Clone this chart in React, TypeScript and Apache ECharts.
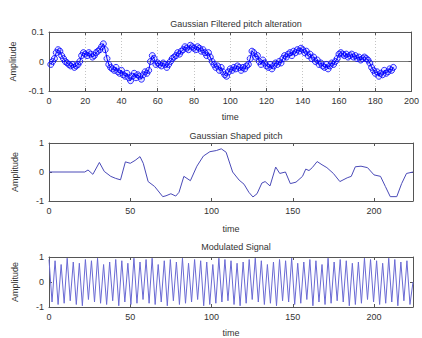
import React, { useEffect, useRef } from "react";
import * as echarts from "echarts";

// Panel 1: Gaussian filtered pitch alteration, samples at t = 1..190
const alterValues = [
  -0.01, 0.0, 0.01, 0.03, 0.04, 0.035, 0.02, 0.01, 0.0, -0.005,
  -0.01, -0.015, -0.01, -0.02, -0.015, -0.01, 0.0, 0.02, 0.03, 0.025,
  0.02, 0.03, 0.025, 0.015, 0.02, 0.03, 0.035, 0.04, 0.05, 0.06,
  0.04, 0.01, -0.01, -0.02, -0.025, -0.03, -0.02, -0.035, -0.04, -0.03,
  -0.045, -0.05, -0.04, -0.055, -0.065, -0.05, -0.04, -0.055, -0.045, -0.05,
  -0.06, -0.045, -0.035, -0.04, -0.03, 0.0, 0.02, 0.01, -0.01, -0.005,
  -0.01, -0.015, -0.005, -0.01, -0.02, -0.01, 0.0, 0.01, 0.015, 0.02,
  0.03, 0.025, 0.035, 0.04, 0.05, 0.045, 0.04, 0.055, 0.05, 0.045,
  0.04, 0.05, 0.045, 0.035, 0.04, 0.03, 0.02, 0.03, 0.015, 0.0,
  -0.01, -0.02, -0.015, -0.03, -0.02, -0.035, -0.045, -0.05, -0.035, -0.025,
  -0.03, -0.02, -0.025, -0.015, -0.02, -0.03, -0.02, -0.025, -0.015, -0.01,
  0.01, 0.035, 0.03, 0.015, 0.02, 0.0, -0.01, 0.005, -0.005, -0.015,
  -0.02, -0.01, -0.025, -0.015, -0.005, -0.01, 0.0, -0.005, 0.01, 0.02,
  0.015, 0.025, 0.03, 0.02, 0.035, 0.03, 0.04, 0.035, 0.045, 0.04,
  0.03, 0.035, 0.02, 0.025, 0.01, 0.015, 0.0, 0.005, -0.01, -0.005,
  -0.015, -0.02, -0.01, -0.025, -0.015, -0.005, -0.01, 0.0, 0.01, 0.025,
  0.03, 0.025, 0.02, 0.025, 0.015, 0.02, 0.025, 0.015, 0.02, 0.01,
  0.015, 0.005, 0.01, 0.015, 0.01, 0.005, -0.005, -0.02, -0.03, -0.04,
  -0.035, -0.05, -0.04, -0.045, -0.03, -0.04, -0.035, -0.025, -0.03, -0.02,
];

// Panel 2: Gaussian shaped pitch
const pitchTime = [
  0, 22, 24, 27, 31, 34, 38, 41, 44, 47, 50, 53, 56, 58, 61, 65, 70, 72, 75, 78, 80,
  83, 87, 91, 95, 99, 103, 106, 109, 113, 117, 120, 123, 125.5, 128, 131, 133, 136,
  139.5, 142, 145.5, 148.5, 152, 156, 158, 160, 162, 165, 168, 171, 175, 179, 183.5,
  186, 188.5, 192, 196, 200, 204, 207, 210, 214, 217, 220, 224,
];
const pitchValue = [
  0, 0, 0.07, -0.08, 0.33, 0.02, -0.15, -0.22, -0.27, 0.35, 0.3, 0.4, 0.53, 0.3, -0.33,
  -0.5, -0.85, -0.82, -0.75, -0.83, -0.7, -0.15, -0.3, 0.2, 0.55, 0.7, 0.74, 0.8, 0.68,
  0.0, -0.28, -0.42, -0.7, -0.86, -0.75, -0.38, -0.33, -0.48, 0.17, -0.05, 0.0, -0.4,
  -0.35, -0.15, 0.1, 0.05, 0.15, 0.36, 0.25, 0.15, -0.05, -0.33, -0.2, -0.15, 0.18,
  0.2, 0.15, -0.1, -0.15, -0.5, -0.85, -0.85, -0.4, -0.05, 0.0,
];

// Panel 3: modulated signal, successive extrema
const modValues = [
  0.9, -0.8, 0.85, -0.9, 0.7, -0.85, 0.95, -0.75, 0.8, -0.9,
  0.75, -0.95, 0.9, -0.7, 0.85, -0.8, 0.95, -0.85, 0.7, -0.9,
  0.8, -0.75, 0.9, -0.95, 0.85, -0.8, 0.75, -0.9, 0.95, -0.85,
  0.8, -0.7, 0.9, -0.85, 0.95, -0.9, 0.7, -0.8, 0.85, -0.95,
  0.9, -0.75, 0.8, -0.9, 0.95, -0.85, 0.75, -0.8, 0.9, -0.7,
  0.85, -0.95, 0.8, -0.9, 0.7, -0.85, 0.95, -0.8, 0.9, -0.75,
  0.85, -0.9, 0.75, -0.95, 0.8, -0.85, 0.9, -0.7, 0.95, -0.8,
  0.85, -0.9, 0.7, -0.85, 0.8, -0.95, 0.9, -0.75, 0.85, -0.8,
  0.95, -0.9, 0.75, -0.85, 0.8, -0.7, 0.9, -0.95, 0.85, -0.8,
  0.7, -0.9, 0.95, -0.85, 0.8, -0.75, 0.9, -0.8, 0.85, -0.95,
  0.75, -0.9, 0.8, -0.85, 0.95, -0.7, 0.9, -0.8, 0.85, -0.9,
  0.75, -0.85, 0.95, -0.8, 0.9, -0.95, 0.8, -0.75, 0.85, -0.9,
  0.0,
];
const MOD_END = 224;

const titles = ["Gaussian Filtered pitch alteration", "Gaussian Shaped pitch", "Modulated Signal"];
const yTicks1 = ["-0.1", "0", "0.1"];

const FONT = "Liberation Sans, Arial, sans-serif";
const AXIS = "#555";
const TXT = "#333";

const grids = [
  { left: 49, top: 32, width: 364, height: 59 },
  { left: 49, top: 143, width: 364, height: 58 },
  { left: 49, top: 257, width: 364, height: 56 },
];

export default function App() {
  const ref = useRef<HTMLDivElement>(null);
  useEffect(() => {
    if (!ref.current) return;
    const chart = echarts.init(ref.current, null, { renderer: "svg" });

    const xCfg = [
      { min: 0, max: 200, interval: 20 },
      { min: 0, max: 224, interval: 50 },
      { min: 0, max: 224, interval: 50 },
    ];
    const yCfg = [
      { min: -0.1, max: 0.1, interval: 0.1 },
      { min: -1, max: 1, interval: 1 },
      { min: -1, max: 1, interval: 1 },
    ];
    const nameGaps = [21, 23, 21];

    const xAxis: any[] = [];
    const yAxis: any[] = [];
    grids.forEach((_, i) => {
      xAxis.push({
        type: "value",
        gridIndex: i,
        position: "bottom",
        ...xCfg[i],
        name: "time",
        nameLocation: "middle",
        nameGap: nameGaps[i],
        nameTextStyle: { fontSize: 9, color: TXT, fontFamily: FONT },
        axisLine: { show: true, onZero: false, lineStyle: { color: AXIS } },
        axisTick: { show: true, inside: true, length: 3, lineStyle: { color: AXIS } },
        axisLabel: { fontSize: 9, color: TXT, fontFamily: FONT, margin: 5, showMaxLabel: i === 0 },
        splitLine:
          i === 0
            ? { show: true, lineStyle: { color: "#c4c4c4", type: [1, 2], width: 1 } }
            : { show: false },
      });
      xAxis.push({
        type: "value",
        gridIndex: i,
        position: "top",
        ...xCfg[i],
        axisLine: { show: true, onZero: false, lineStyle: { color: AXIS } },
        axisTick: { show: true, inside: true, length: 3, lineStyle: { color: AXIS } },
        axisLabel: { show: false },
        splitLine: { show: false },
      });
      yAxis.push({
        type: "value",
        gridIndex: i,
        position: "left",
        ...yCfg[i],
        name: "Amplitude",
        nameLocation: "middle",
        nameRotate: 90,
        nameGap: 30,
        nameTextStyle: { fontSize: 9, color: TXT, fontFamily: FONT },
        axisLine: { show: true, onZero: false, lineStyle: { color: AXIS } },
        axisTick: { show: true, inside: true, length: 3, lineStyle: { color: AXIS } },
        axisLabel: {
          fontSize: 9,
          color: TXT,
          fontFamily: FONT,
          margin: 5,
          formatter: i === 0 ? (v: number) => yTicks1[Math.round(v * 10) + 1] : undefined,
        },
        splitLine:
          i === 0 ? { show: true, lineStyle: { color: "#777", width: 1 } } : { show: false },
      });
      yAxis.push({
        type: "value",
        gridIndex: i,
        position: "right",
        ...yCfg[i],
        axisLine: { show: true, onZero: false, lineStyle: { color: AXIS } },
        axisTick: { show: true, inside: true, length: 3, lineStyle: { color: AXIS } },
        axisLabel: { show: false },
        splitLine: { show: false },
      });
    });

    const titleCenters = [20, 132, 243];
    const modStep = MOD_END / (modValues.length - 1);

    chart.setOption({
      animation: false,
      backgroundColor: "#fff",
      title: titles.map((t, i) => ({
        text: t,
        left: 231,
        top: titleCenters[i] - 6,
        textAlign: "center",
        textStyle: { fontSize: 9, fontWeight: "normal", color: TXT, fontFamily: FONT },
      })),
      grid: grids.map((g) => ({ ...g, show: false })),
      xAxis,
      yAxis,
      series: [
        {
          type: "line",
          xAxisIndex: 0,
          yAxisIndex: 0,
          data: alterValues.map((v, k) => [k + 1, v]),
          symbol: "circle",
          symbolSize: 6,
          showAllSymbol: true,
          lineStyle: { color: "#0000ff", width: 1 },
          itemStyle: { color: "rgba(0,0,255,0.1)", borderColor: "#0000ff", borderWidth: 0.8 },
        },
        {
          type: "line",
          xAxisIndex: 2,
          yAxisIndex: 2,
          data: pitchTime.map((t, k) => [t, pitchValue[k]]),
          symbol: "none",
          lineStyle: { color: "#4a4ab8", width: 1 },
        },
        {
          type: "line",
          xAxisIndex: 4,
          yAxisIndex: 4,
          data: modValues.map((v, k) => [k * modStep, v]),
          symbol: "none",
          lineStyle: { color: "#6a6ad4", width: 1 },
        },
      ],
    });
    return () => chart.dispose();
  }, []);
  return (
    <div
      ref={ref}
      style={{ position: "fixed", left: 0, top: 0, width: 422, height: 338, background: "#fff" }}
    />
  );
}
